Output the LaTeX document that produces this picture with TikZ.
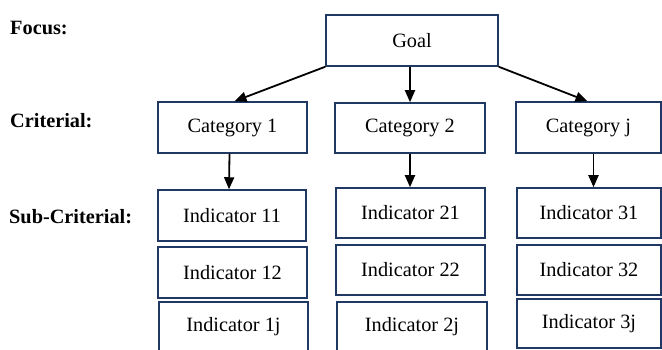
\documentclass[tikz,border=0pt]{standalone}
\usepackage{fontspec}
\setmainfont{Liberation Serif}
\usetikzlibrary{arrows.meta}
\definecolor{boxline}{HTML}{1F3864}
\begin{document}
\begin{tikzpicture}[x=1pt,y=-1pt,
  box/.style={draw=boxline,line width=1.5pt,fill=white,inner sep=0pt,
    font=\fontsize{20.3}{24}\selectfont},
  lvl/.style={anchor=west,inner sep=0pt,font=\fontsize{20.3}{24}\selectfont\bfseries},
  arr/.style={line width=1.8pt,-{Triangle[length=12pt,width=10pt]}}]
\useasboundingbox (0,0) rectangle (662,350);
\clip (0,0) rectangle (662,350);

% level captions
\node[lvl] (lf) at (10,28) {Focus:};
\node[lvl] (lc) at (10,121) {Criterial:};
\node[lvl] (ls) at (9,217) {Sub-Criterial:};

% top of the hierarchy
\node[box,minimum width=172pt,minimum height=51pt] (goal) at (412,40.5) {Goal};

% categories
\node[box,minimum width=149pt,minimum height=51pt] (cat1) at (232.5,127.5) {Category 1};
\node[box,minimum width=150pt,minimum height=50pt] (cat2) at (410,128) {Category 2};
\node[box,minimum width=145pt,minimum height=51pt] (catj) at (588.5,127.5) {Category j};

% indicators, column 1
\node[box,minimum width=148pt,minimum height=51pt] (i11) at (232,215.5) {Indicator 11};
\node[box,minimum width=149pt,minimum height=51pt] (i12) at (232.5,272.5) {Indicator 12};
\node[box,minimum width=149pt,minimum height=50pt] (i1j) at (233.5,327) {Indicator 1j};

% indicators, column 2
\node[box,minimum width=149pt,minimum height=50pt] (i21) at (410.5,213) {Indicator 21};
\node[box,minimum width=149pt,minimum height=50pt] (i22) at (410.5,270) {Indicator 22};
\node[box,minimum width=150pt,minimum height=50pt] (i2j) at (412,327) {Indicator 2j};

% indicators, column 3
\node[box,minimum width=144pt,minimum height=50pt] (i31) at (589,213) {Indicator 31};
\node[box,minimum width=144pt,minimum height=50pt] (i32) at (589,270) {Indicator 32};
\node[box,minimum width=144pt,minimum height=49pt] (i3j) at (589,323.5) {Indicator 3j};

% connectors
\draw[arr] (goal.south west) -- ([xshift=2pt]cat1.north);
\draw[arr] (cat2.north |- goal.south) -- (cat2.north);
\draw[arr] (goal.south east) -- ([xshift=-1pt]catj.north);
\draw[arr] ([xshift=-3pt]cat1.south) -- ([xshift=-3pt]i11.north);
\draw[arr] (cat2.south) -- (cat2.south |- i21.north);
\draw[arr] ([xshift=5pt]catj.south) -- ([xshift=5pt]catj.south |- i31.north);
\end{tikzpicture}
\end{document}
